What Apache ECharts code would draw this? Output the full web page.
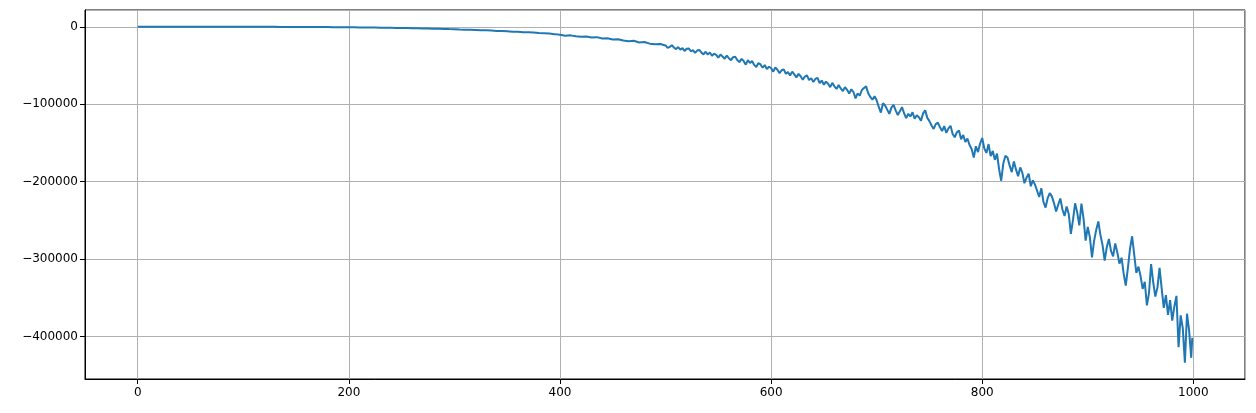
<!DOCTYPE html>
<html lang="en">
<head>
    <meta charset="UTF-8">
    <title>Line</title>
    <script type="text/javascript" src="https://cdn.jsdelivr.net/npm/echarts@6/dist/echarts.min.js"></script>
    <style>
        html, body { margin: 0; padding: 0; background: #fff; }
    </style>
</head>
<body>
<div id="main" style="width:1256px;height:413px;"></div>
<script>
    // values
    // x = 0..495, one every 5
    let ysLow = [
        0, 0, 0, 0, 0, 0, 0, -1, -1, -2, -3, -4, -5, -7, -10, -13, -16, -21, -26, -33,
        -40, -49, -59, -70, -83, -98, -114, -133, -154, -177, -203, -231, -262, -297, -334, -375, -420, -469, -521, -578,
        -640, -710, -780, -860, -930, -1020, -1110, -1220, -1320, -1430, -1560, -1680, -1820, -1960, -2110, -2280, -2440, -2630, -2800, -3000,
        -3100, -3500, -3700, -3900, -4100, -4600, -4500, -4900, -5300, -5500, -5900, -6400, -6300, -7000, -7200, -7400, -8100, -8300, -8800, -9500,
        -10400, -11500, -11100, -12300, -12900, -12500, -13900, -13400, -15100, -14800, -16500, -16000, -17800, -18600, -18100, -20200, -19700, -21800, -22600, -22200
    ];
    // x = 500..998, one every 2
    let ysHigh = [
        -24100, -27300, -25900, -23800, -26800, -28900, -26200, -29400, -27600, -31200, -28300, -27900, -31600, -30100, -33800, -30700, -29800, -33400, -35600, -32200, -35900, -33100, -37400, -34800, -36200,
        -39800, -35900, -38400, -41200, -37300, -40600, -43100, -39200, -38700, -42900, -45600, -41400, -44200, -48900, -43100, -46800, -44300, -49200, -51800, -46900, -48600, -52900, -49400, -54700, -51600,
        -53200, -57900, -52600, -55400, -59800, -56100, -54900, -60700, -58300, -62900, -57900, -61400, -65300, -60800, -63900, -68400, -64200, -62700, -68900, -66300, -71200, -67400, -65900, -72800, -69400,
        -74900, -70800, -73600, -77900, -72400, -76800, -80200, -75300, -79600, -83100, -77900, -81400, -86300, -80700, -84200, -92400, -85900, -88800, -81600, -79100, -76900, -85900, -90600, -94100, -89800,
        -94800, -103500, -110800, -98700, -101600, -106900, -112400, -104300, -100900, -107800, -113900, -109200, -103800, -111600, -117900, -112300, -115800, -110400, -118700, -114200, -116800, -121300, -111800, -107900, -117600,
        -121800, -127400, -131900, -125600, -123800, -129700, -134600, -128300, -136900, -131200, -127800, -138400, -142600, -136100, -133900, -145200, -139700, -148800, -144300, -152600, -157800, -168900, -154200, -161700, -150800,
        -143600, -157200, -162800, -151400, -166900, -160300, -171800, -163700, -183900, -198700, -176200, -166400, -168900, -179300, -187600, -173900, -184100, -192800, -181600, -188300, -201900, -194600, -189700, -205800, -198200,
        -203700, -211600, -219800, -208400, -225900, -233400, -221300, -214700, -218900, -227600, -238400, -229700, -221600, -235800, -244200, -232100, -241900, -267200, -249300, -227800, -239600, -256400, -228300, -247700, -276100,
        -258300, -271600, -297800, -276400, -262200, -251300, -268900, -281700, -301900, -284600, -273800, -289200, -296400, -279700, -291300, -305800, -298100, -318700, -334200, -311600, -286700, -270400, -294100, -317800, -309600,
        -321800, -338400, -329100, -359600, -343700, -306400, -329800, -348200, -336700, -311200, -337800, -362900, -346300, -371900, -352800, -379400, -361200, -347300, -413700, -372600, -388900, -433500, -370400, -391800, -427300
    ];
    // x = 999
    let yLast = -401500;

    let xs = ysLow.map((v, i) => i * 5).concat(ysHigh.map((v, i) => 500 + i * 2), [999]);
    let ys = ysLow.concat(ysHigh, [yLast]);

    let xMin = -49.95, xMax = 1048.95;
    let yMin = -454650, yMax = 21650;

    let myChart = echarts.init(document.getElementById('main'));

    let option = {
        animation: false,
        backgroundColor: '#fff',
        grid: { left: 85, right: 11, top: 10, bottom: 34, show: true, borderColor: '#000', borderWidth: 1 },
        xAxis: {
            type: 'value',
            min: xMin,
            max: xMax,
            splitNumber: 5,
            axisLine: { show: true, onZero: false, lineStyle: { color: '#000', width: 1 } },
            axisTick: { show: true, inside: false, length: 5, lineStyle: { color: '#000' } },
            axisLabel: {
                showMinLabel: false, showMaxLabel: false,
                color: '#000', fontSize: 12, fontFamily: 'DejaVu Sans', margin: 8,
                formatter: v => (v % 200 === 0 ? String(v) : '')
            },
            splitLine: { show: true, lineStyle: { color: '#b0b0b0', width: 1 } }
        },
        yAxis: {
            type: 'value',
            min: yMin,
            max: yMax,
            splitNumber: 5,
            axisLine: { show: true, onZero: false, lineStyle: { color: '#000', width: 1 } },
            axisTick: { show: true, inside: false, length: 5, lineStyle: { color: '#000' } },
            axisLabel: {
                showMinLabel: false, showMaxLabel: false,
                color: '#000', fontSize: 12, fontFamily: 'DejaVu Sans', margin: 7,
                formatter: v => (v % 100000 === 0 ? String(v).replace('-', '\u2212') : '')
            },
            splitLine: { show: true, lineStyle: { color: '#b0b0b0', width: 1 } }
        },
        series: [{
            type: 'line',
            data: xs.map((x, i) => [x, ys[i]]),
            showSymbol: false,
            symbol: 'none',
            lineStyle: { color: '#1f77b4', width: 2 },
            itemStyle: { color: '#1f77b4' }
        }]
    };
    myChart.setOption(option);
</script>
</body>
</html>
